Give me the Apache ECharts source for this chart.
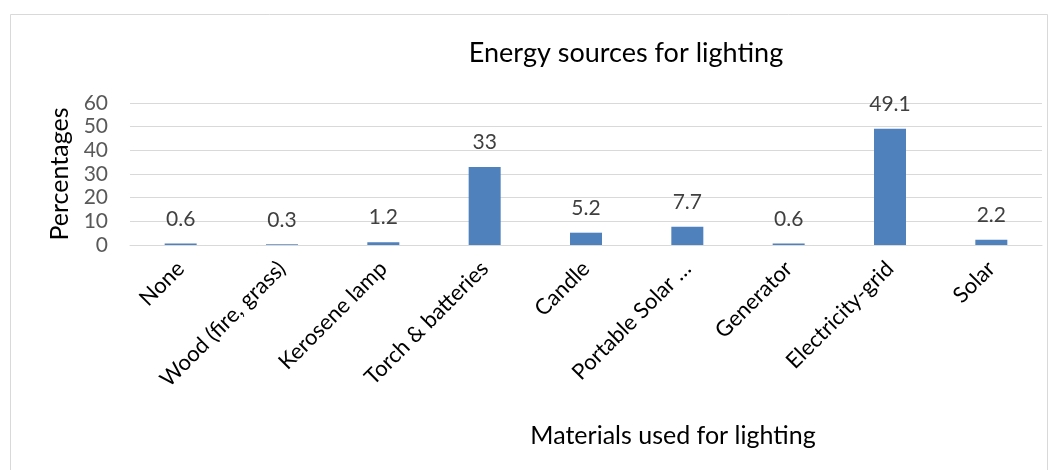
<!DOCTYPE html>
<html>
<head>
<meta charset="utf-8">
<script src="https://cdn.jsdelivr.net/npm/echarts@6/dist/echarts.min.js"></script>
<style>
  html, body { margin: 0; padding: 0; background: #ffffff; }
  #chart { width: 1058px; height: 470px; }
</style>
</head>
<body>
<div id="chart"></div>
<script>
// Lighting energy sources and their share of households (%)
const categories = ['None', 'Wood (fire, grass)', 'Kerosene lamp', 'Torch & batteries', 'Candle', 'Portable Solar …', 'Generator', 'Electricity-grid', 'Solar'];
const percentages = [0.6, 0.3, 1.2, 33, 5.2, 7.7, 0.6, 49.1, 2.2];
const yTicks = [0, 10, 20, 30, 40, 50, 60];

const FONT = 'Lato, "Open Sans", sans-serif';
const chart = echarts.init(document.getElementById('chart'), null, { renderer: 'canvas' });

chart.setOption({
  backgroundColor: '#ffffff',
  animation: false,
  graphic: [{
    type: 'rect',
    shape: { x: 10.5, y: 14.5, width: 1037, height: 470 },
    style: { fill: 'none', stroke: '#d9d9d9', lineWidth: 1 }
  }],
  title: {
    text: 'Energy sources for lighting',
    left: 621, top: 35, textAlign: 'center',
    textStyle: { fontFamily: FONT, fontSize: 27, fontWeight: 'normal', color: '#000000' }
  },
  grid: { left: 130, right: 16, top: 103, bottom: 225, containLabel: false, outerBoundsMode: 'none' },
  xAxis: {
    type: 'category',
    data: categories,
    name: 'Materials used for lighting',
    nameLocation: 'middle',
    nameGap: 178,
    nameTextStyle: { fontFamily: FONT, fontSize: 25, color: '#000000', padding: [0, 0, 0, 174] },
    axisLine: { show: true, lineStyle: { color: '#d9d9d9', width: 1 } },
    axisTick: { show: false },
    axisLabel: {
      interval: 0, rotate: 45, margin: 20,
      fontFamily: FONT, fontSize: 22, color: '#000000'
    }
  },
  yAxis: {
    type: 'value',
    min: yTicks[0], max: yTicks[yTicks.length - 1], interval: 10,
    name: 'Percentages',
    nameLocation: 'middle',
    nameGap: 55,
    nameRotate: 90,
    nameTextStyle: { fontFamily: FONT, fontSize: 25, color: '#000000' },
    axisLine: { show: false },
    axisTick: { show: false },
    axisLabel: { fontFamily: FONT, fontSize: 21, color: '#595959', margin: 22 },
    splitLine: { lineStyle: { color: '#d9d9d9', width: 1 } }
  },
  series: [{
    type: 'bar',
    data: percentages,
    barWidth: 32,
    itemStyle: { color: '#4f81bd' },
    label: {
      show: true, position: 'top', distance: 14,
      fontFamily: FONT, fontSize: 21, color: '#404040'
    }
  }]
});
</script>
</body>
</html>
